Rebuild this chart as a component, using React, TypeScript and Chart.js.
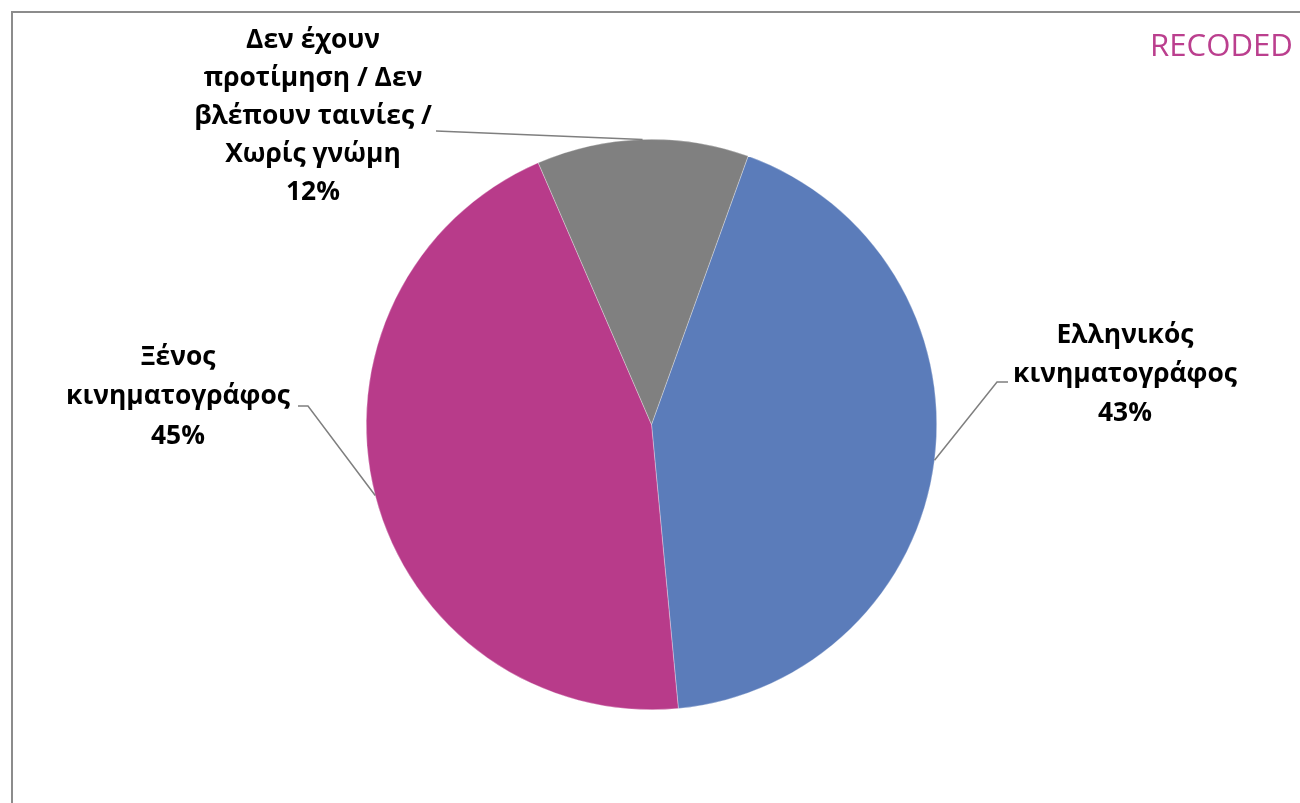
import React, { useEffect, useRef } from "react";
import { Chart, registerables } from "chart.js";

Chart.register(...registerables);

// ---- data ----
const categories = [
  "Ελληνικός κινηματογράφος",
  "Ξένος κινηματογράφος",
  "Δεν έχουν προτίμηση / Δεν βλέπουν ταινίες / Χωρίς γνώμη",
];
const values = [43, 45, 12];
const labelLines = [
  ["Ελληνικός", "κινηματογράφος"],
  ["Ξένος", "κινηματογράφος"],
  ["Δεν έχουν", "προτίμηση / Δεν", "βλέπουν ταινίες /", "Χωρίς γνώμη"],
];
const percentLabels = values.map((v) => v + "%");
const colors = ["#5b7cba", "#b83b8a", "#808080"];
const cornerNote = "RECODED";

// ---- layout (positions / styles) ----
const W = 1300;
const H = 803;
const labelLayout = [
  { cx: 1125, top: 335, lh: 39, leader: [[1008, 382], [997, 382]] },
  { cx: 178, top: 357, lh: 39.5, leader: [[298, 406], [308, 406]] },
  { cx: 313, top: 40, lh: 38, leader: [[436, 131]] },
];
const FONT_FAMILY = "'Open Sans', 'Noto Sans', sans-serif";

const labelPlugin = {
  id: "pieLabels",
  afterDraw(chart: any) {
    const ctx = chart.ctx as CanvasRenderingContext2D;
    ctx.save();

    // frame
    ctx.strokeStyle = "#8c8c8c";
    ctx.lineWidth = 2;
    ctx.strokeRect(12, 12, W + 20, H + 20);

    // fit label font to reference width
    ctx.font = `bold 100px ${FONT_FAMILY}`;
    const ref = ctx.measureText("κινηματογράφος").width;
    const fs = (100 * 224) / ref;
    const meta = chart.getDatasetMeta(0);

    meta.data.forEach((arc: any, i: number) => {
      const p = arc.getProps(["x", "y", "startAngle", "endAngle", "outerRadius"], true);
      const mid = (p.startAngle + p.endAngle) / 2;
      const ex = p.x + Math.cos(mid) * p.outerRadius;
      const ey = p.y + Math.sin(mid) * p.outerRadius;
      const L = labelLayout[i];

      // leader
      ctx.strokeStyle = "#7f7f7f";
      ctx.lineWidth = 1.5;
      ctx.beginPath();
      L.leader.forEach((pt, k) => (k === 0 ? ctx.moveTo(pt[0], pt[1]) : ctx.lineTo(pt[0], pt[1])));
      ctx.lineTo(ex, ey);
      ctx.stroke();

      // text
      ctx.fillStyle = "#000000";
      ctx.font = `bold ${fs}px ${FONT_FAMILY}`;
      ctx.textAlign = "center";
      ctx.textBaseline = "middle";
      const lines = [...labelLines[i], percentLabels[i]];
      lines.forEach((t, k) => ctx.fillText(t, L.cx, L.top + k * L.lh));
    });

    // corner note
    ctx.font = `100px ${FONT_FAMILY}`;
    const rw = ctx.measureText(cornerNote).width;
    const rfs = (100 * 143) / rw;
    ctx.font = `${rfs}px ${FONT_FAMILY}`;
    ctx.fillStyle = "#bb3f8e";
    ctx.textAlign = "left";
    ctx.textBaseline = "alphabetic";
    ctx.fillText(cornerNote, 1150, 56);

    ctx.restore();
  },
};

export default function App() {
  const ref = useRef<HTMLCanvasElement>(null);

  useEffect(() => {
    if (!ref.current) return;
    const chart = new Chart(ref.current, {
      type: "pie",
      data: {
        labels: categories,
        datasets: [
          {
            data: values,
            backgroundColor: colors,
            borderColor: "rgba(255,255,255,0.6)",
            borderWidth: 0.5,
          },
        ],
      },
      options: {
        responsive: false,
        animation: false,
        devicePixelRatio: 1,
        rotation: 19.8,
        layout: { padding: { top: 139, bottom: 93, left: 366, right: 363 } },
        plugins: {
          legend: { display: false },
          tooltip: { enabled: false },
        },
      },
      plugins: [labelPlugin],
    });
    return () => chart.destroy();
  }, []);

  return (
    <div style={{ position: "fixed", left: 0, top: 0, width: W, height: H, background: "#fff" }}>
      <canvas ref={ref} width={W} height={H} style={{ width: W, height: H, display: "block" }} />
    </div>
  );
}
